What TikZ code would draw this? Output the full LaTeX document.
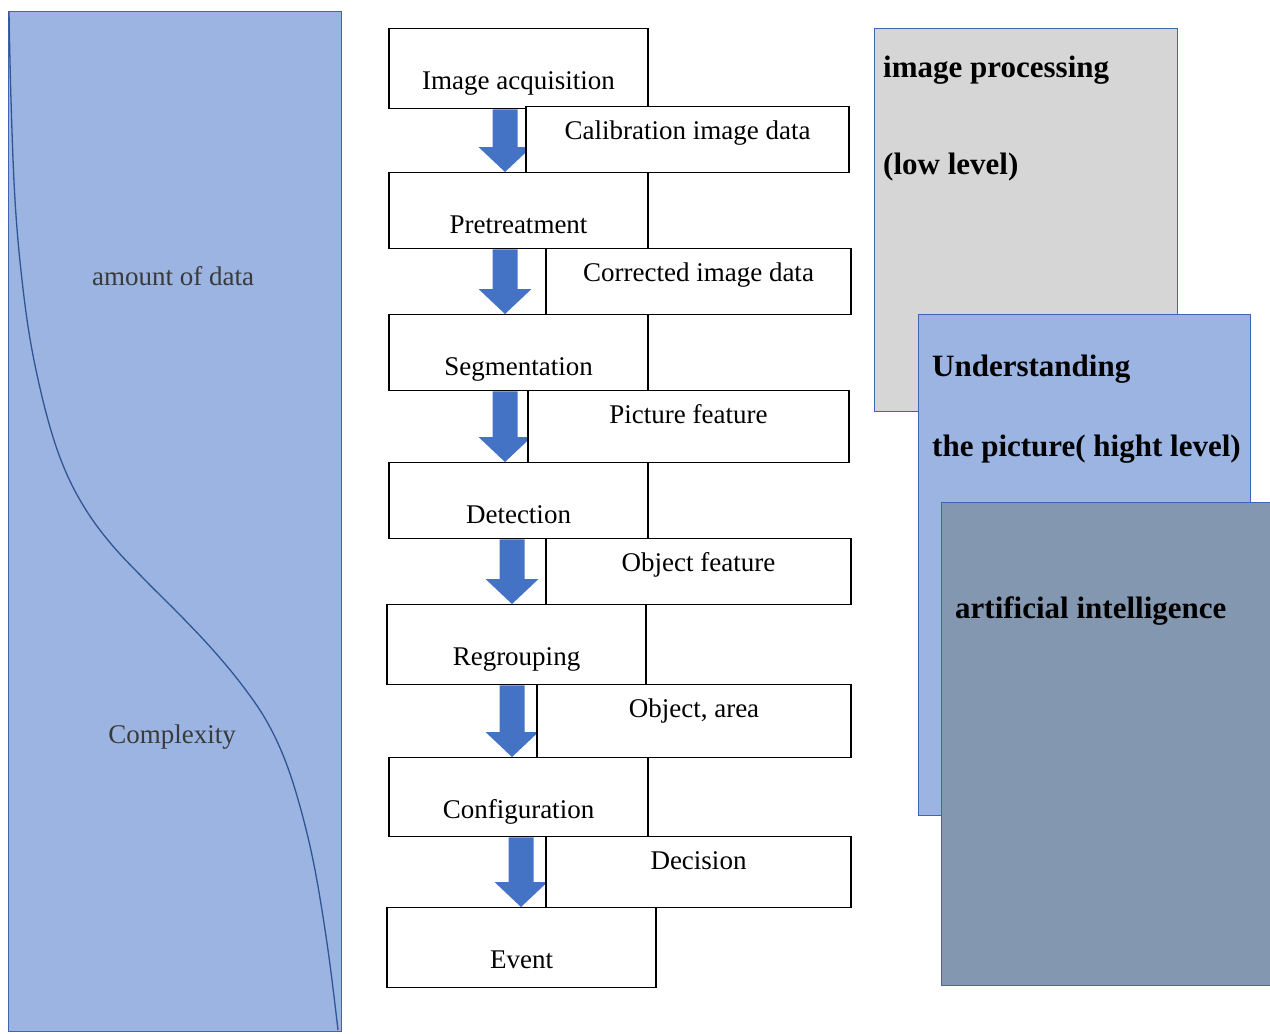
\documentclass[tikz,border=0pt]{standalone}
\usepackage{fontspec}
\setmainfont{Liberation Serif}
\usetikzlibrary{calc}
\definecolor{arrowblue}{RGB}{68,114,196}
\definecolor{panelblue}{RGB}{156,180,225}
\definecolor{panelgray}{RGB}{214,214,214}
\definecolor{aislate}{RGB}{132,151,176}
\definecolor{edgeblue}{RGB}{62,102,178}
\definecolor{curveblue}{RGB}{47,85,151}
\definecolor{labelgray}{RGB}{58,58,58}
\newcommand\myreg{\fontsize{27pt}{32pt}\selectfont}
\newcommand\mybold{\fontsize{31pt}{36pt}\selectfont\bfseries}
\tikzset{
  mainbox/.style={draw=black, fill=white, line width=1.3pt, inner xsep=0pt, inner ysep=0pt,
    text height=61pt, anchor=north, font=\myreg},
  sidebox/.style={draw=black, fill=white, line width=1.3pt, inner xsep=0pt, inner ysep=0pt,
    text height=33pt, anchor=north, font=\myreg},
  panel/.style={draw=edgeblue, line width=1.4pt, inner sep=0pt, anchor=north west},
  paneltext/.style={font=\myreg, text=labelgray, anchor=base},
  levelstext/.style={font=\mybold, text=black, anchor=base west, inner sep=0pt},
  flowfill/.style={fill=arrowblue},
}
\newcommand\flowarrow[3]{%
  \coordinate (ax) at (#3,0);
  \fill[flowfill] ($(#1.south -| ax)+(-12.5,0)$) -- ($(#1.south -| ax)+(12.5,0)$)
    -- ($(#2.north -| ax)+(12.5,-25)$) -- ($(#2.north -| ax)+(26.5,-25)$)
    -- (#2.north -| ax) -- ($(#2.north -| ax)+(-26.5,-25)$)
    -- ($(#2.north -| ax)+(-12.5,-25)$) -- cycle;
}
\begin{document}
\begin{tikzpicture}[x=1pt, y=-1pt]
\useasboundingbox (0,0) rectangle (1270,1034);
\clip (0,0) rectangle (1270,1034);
\fill[white] (0,0) rectangle (1270,1034);

% left panel
\node[panel, fill=panelblue, minimum width=333pt, minimum height=1020pt] (left) at (8,11) {};
\draw[curveblue, line width=1.3pt] plot[smooth, tension=0.6] coordinates {
  (9,12) (11,100) (15,200) (22,280) (32,350) (48,420) (65,470) (86,510) (112,545)
  (145,580) (180,615) (213,650) (242,685) (266,720) (285,760) (301,810) (315,870)
  (328,950) (338,1030)};
\node[paneltext] (amount) at (173,285) {amount of data};
\node[paneltext] (complex) at (172,743) {Complexity};

% right stacked panels
\node[panel, fill=panelgray, minimum width=303pt, minimum height=383pt] (lowlvl) at (874,28) {};
\node[levelstext] (lowa) at (883,77) {image processing};
\node[levelstext] (lowb) at (883,174) {(low level)};
\node[panel, fill=panelblue, minimum width=332pt, minimum height=501pt] (highlvl) at (918,314) {};
\node[levelstext] (higha) at (932,376) {Understanding};
\node[levelstext] (highb) at (932,456) {the picture( hight level)};
\node[panel, fill=aislate, minimum width=345pt, minimum height=483pt] (ai) at (941,502) {};
\node[levelstext] (aitext) at (955,618) {artificial intelligence};

% main flow boxes
\node[mainbox, minimum width=259pt, text depth=19pt] (acq) at (518.5,28) {Image acquisition};
\node[mainbox, minimum width=259pt, text depth=15pt] (pre) at (518.5,172) {Pretreatment};
\node[mainbox, minimum width=259pt, text depth=15pt] (seg) at (518.5,314) {Segmentation};
\node[mainbox, minimum width=259pt, text depth=15pt] (det) at (518.5,462) {Detection};
\node[mainbox, minimum width=259pt, text depth=19pt] (reg) at (516.5,604) {Regrouping};
\node[mainbox, minimum width=259pt, text depth=18pt] (conf) at (518.5,757) {Configuration};
\node[mainbox, minimum width=269pt, text depth=19pt] (evt) at (521.5,907) {Event};

% arrows
\flowarrow{acq}{pre}{505}
\flowarrow{pre}{seg}{505}
\flowarrow{seg}{det}{505}
\flowarrow{det}{reg}{512}
\flowarrow{reg}{conf}{512}
\flowarrow{conf}{evt}{521}

% data boxes
\node[sidebox, minimum width=323pt, text depth=33pt] (cal) at (687.5,106) {Calibration image data};
\node[sidebox, minimum width=305pt, text depth=33pt] (cor) at (698.5,248) {Corrected image data};
\node[sidebox, minimum width=321pt, text depth=39pt] (pic) at (688.5,390) {Picture feature};
\node[sidebox, minimum width=305pt, text depth=33pt] (obj) at (698.5,538) {Object feature};
\node[sidebox, minimum width=314pt, text depth=40pt] (area) at (694,684) {Object, area};
\node[sidebox, minimum width=305pt, text depth=38pt] (dec) at (698.5,836) {Decision};
\end{tikzpicture}
\end{document}
